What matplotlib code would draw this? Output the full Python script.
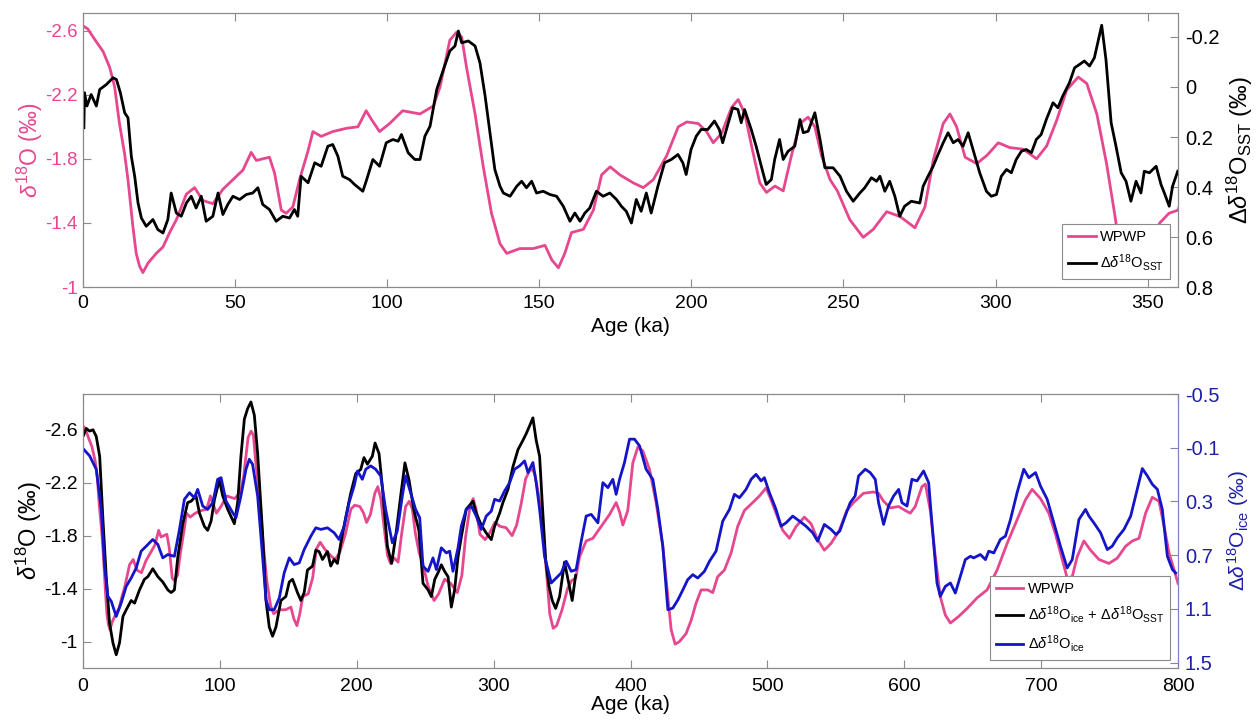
import matplotlib
matplotlib.use('Agg')
import matplotlib.pyplot as plt

plt.rcParams['font.family'] = ['Liberation Sans', 'DejaVu Sans']
plt.rcParams['mathtext.fontset'] = 'custom'
plt.rcParams['mathtext.rm'] = 'Liberation Sans'
plt.rcParams['mathtext.it'] = 'Liberation Sans:italic'
plt.rcParams['mathtext.bf'] = 'Liberation Sans:bold'

# WPWP d18O (permil), 0-800 ka
wpwp_age = [0, 1.6, 4.4, 6.6, 8.8, 10.4, 12, 13.7, 14.8, 16.4, 17.5, 18.6, 19.7, 21.4, 24.1, 26.3,
            28.5, 30.7, 34, 36.7, 39.4, 42.7, 46, 49.3, 52.6, 55.3, 57, 59.1, 61.3, 63, 65.2, 66.8,
            69, 71.2, 74, 75.6, 78.3, 82.1, 86.5, 90.4, 93.1, 94.7, 97.5, 100.8, 105.1, 110.8,
            115.2, 117.4, 120.6, 122.8, 124.5, 126.1, 128.9, 131.6, 134.3, 137.1, 139.3, 143.6,
            148, 151.9, 154.1, 156.3, 158.4, 160.6, 164.5, 167.8, 170.5, 173.3, 176.5, 180.9,
            184.2, 187.5, 191.9, 195.7, 198.5, 202.3, 205, 207.2, 210, 213.2, 215.4, 217.6,
            219.8, 222.5, 224.7, 227.5, 230.2, 232.9, 235.7, 238.4, 240.6, 242.8, 245.6, 248,
            252.1, 256.5, 259.8, 264.2, 268.6, 273.5, 276.8, 279.5, 282.8, 285, 287.2, 290,
            293.8, 297.1, 300.9, 304.7, 309.1, 313.5, 316.8, 320.1, 323.4, 327.2, 330, 333.3,
            336.5, 339.3, 341, 343.5, 346, 350, 354, 357, 360,
            362.8, 367.6, 372.5, 378.6, 384.7, 389.5, 392, 394.4, 398, 401.7, 405.4, 409, 413.9,
            418.7, 423.6, 427.3, 429.7, 432.6, 435.8, 440.6, 444.3, 447.9, 451.6, 456.4, 460.1,
            463.7, 468.6, 473.5, 478.3, 483.2, 489.3, 494.2, 499, 502.7, 506.3, 511.2, 516.1,
            521, 527, 531.9, 536.7, 541.6, 546.4, 552.6, 558, 562.9, 570.2, 577.6, 581.2, 584.9,
            589.8, 595.9, 600.7, 604.4, 608, 612.9, 615.4, 619, 622.7, 626.3, 630, 633.7, 639.8,
            645.9, 653.2, 660.5, 667.8, 675.1, 682.4, 688.5, 693.4, 699.5, 705.6, 710.5, 715.4,
            719, 722.7, 726.3, 731.2, 736.1, 742.2, 749.5, 755.6, 761.7, 766.6, 771.5, 776.3,
            781.2, 786.1, 789.8, 793.4, 797.1, 800]
wpwp_d18o = [-2.63, -2.61, -2.53, -2.47, -2.37, -2.25, -2.02, -1.83, -1.67, -1.38, -1.21, -1.13,
             -1.09, -1.15, -1.21, -1.25, -1.34, -1.42, -1.58, -1.62, -1.54, -1.52, -1.61, -1.67,
             -1.73, -1.84, -1.79, -1.80, -1.81, -1.71, -1.48, -1.46, -1.50, -1.67, -1.85, -1.97,
             -1.94, -1.97, -1.99, -2.00, -2.10, -2.05, -1.97, -2.02, -2.10, -2.08, -2.13, -2.25,
             -2.54, -2.59, -2.56, -2.37, -2.08, -1.75, -1.46, -1.27, -1.21, -1.24, -1.24, -1.26,
             -1.17, -1.12, -1.21, -1.34, -1.36, -1.48, -1.70, -1.75, -1.70, -1.65, -1.62, -1.67,
             -1.82, -2.00, -2.03, -2.02, -1.97, -1.90, -1.96, -2.12, -2.17, -2.08, -1.88, -1.65,
             -1.59, -1.63, -1.60, -1.82, -2.02, -2.06, -2.00, -1.82, -1.67, -1.60, -1.42, -1.31,
             -1.36, -1.47, -1.44, -1.37, -1.50, -1.79, -2.02, -2.08, -2.00, -1.81, -1.77, -1.82,
             -1.90, -1.87, -1.86, -1.80, -1.88, -2.04, -2.23, -2.31, -2.27, -2.08, -1.77, -1.44,
             -1.21, -1.10, -1.12, -1.24, -1.40, -1.46, -1.48,
             -1.64, -1.76, -1.78, -1.87, -1.96, -2.05, -1.98, -1.88, -1.99, -2.35, -2.47, -2.44,
             -2.30, -2.05, -1.72, -1.34, -1.09, -0.98, -1.00, -1.06, -1.16, -1.29, -1.39, -1.39,
             -1.37, -1.49, -1.54, -1.67, -1.87, -1.99, -2.05, -2.10, -2.16, -2.07, -1.97, -1.84,
             -1.78, -1.87, -1.94, -1.89, -1.77, -1.69, -1.74, -1.84, -1.99, -2.05, -2.12, -2.13,
             -2.12, -2.06, -2.01, -2.02, -1.99, -1.97, -2.02, -2.17, -2.19, -1.99, -1.64, -1.34,
             -1.20, -1.14, -1.19, -1.25, -1.33, -1.39, -1.54, -1.74, -1.92, -2.07, -2.15, -2.08,
             -1.97, -1.81, -1.62, -1.48, -1.49, -1.64, -1.76, -1.69, -1.62, -1.59, -1.63, -1.72,
             -1.76, -1.78, -1.97, -2.09, -2.06, -1.87, -1.67, -1.54, -1.44]

# delta d18O_SST (permil), 0-360 ka
sst_age = [0.3, 0.5, 1.3, 2.7, 4.4, 5.5, 7.7, 9.9, 11, 12.3, 13.7, 14.8, 15.9, 17, 18.1, 19.2,
           20.8, 23, 24.6, 26.3, 27.9, 29, 30.7, 32.3, 34, 35.6, 37.2, 38.9, 40.5, 42.7, 44.4, 46,
           47.6, 49.3, 51.5, 53.7, 55.8, 57.5, 59.1, 61.3, 63.5, 65.7, 67.9, 69.5, 70.6, 71.7, 74,
           76.2, 78.3, 80.5, 82.1, 83.8, 85.4, 87.6, 89.3, 92, 93.1, 95.3, 97.5, 99.7, 101.9,
           103.6, 104.7, 106.9, 109.1, 110.8, 112.4, 114.1, 116.3, 118.5, 120.6, 122.3, 123.4,
           124.5, 126.7, 128.9, 130.5, 132.2, 133.8, 135.4, 137.1, 138.2, 140.4, 142.6, 144.2,
           145.8, 147.5, 149.1, 151.3, 153.5, 155.7, 157.9, 160.1, 161.7, 163.4, 165, 166.6,
           168.8, 171, 173.2, 175.4, 177, 178.6, 180.3, 181.9, 183.5, 185.2, 186.8, 189, 191.2,
           193.4, 195.6, 197.2, 198.3, 199.9, 201.6, 203.2, 205.4, 207.6, 209.2, 210.3, 212,
           213.6, 215.3, 216.4, 217.5, 219.7, 221.3, 223, 224.6, 226.3, 227.4, 229, 230.2, 231.8,
           234, 235.7, 236.8, 238.4, 240.6, 242.3, 243.9, 246.6, 248.9, 251, 253.2, 255.4, 257,
           259.2, 260.9, 262, 263.6, 265.2, 266.9, 268.5, 270.1, 272.3, 275.1, 276.2, 277.8,
           279.5, 281.1, 282.8, 284.4, 286.1, 287.7, 289.3, 291, 292.6, 294.8, 297, 298.6, 300.3,
           301.9, 303.6, 305.2, 306.8, 308.5, 310.1, 311.8, 313.4, 315, 316.7, 318.9, 320.5,
           322.1, 324.3, 326, 327.6, 329.2, 330.9, 332.5, 333.6, 334.9, 336.3, 338, 339.6, 341.3,
           342.9, 344.5, 346.2, 347.8, 348.9, 350.6, 352.8, 354.4, 355.5, 357.1, 358.2, 359.9]
sst_d18o = [0.163, 0.023, 0.076, 0.03, 0.076, 0.01, -0.01, -0.037, -0.03, 0.023, 0.103, 0.123,
            0.277, 0.357, 0.464, 0.524, 0.557, 0.53, 0.57, 0.584, 0.53, 0.424, 0.504, 0.517,
            0.464, 0.437, 0.484, 0.437, 0.537, 0.517, 0.424, 0.51, 0.47, 0.437, 0.45, 0.43,
            0.424, 0.403, 0.47, 0.49, 0.537, 0.517, 0.524, 0.49, 0.517, 0.357, 0.383, 0.303,
            0.317, 0.237, 0.23, 0.277, 0.357, 0.37, 0.39, 0.417, 0.377, 0.29, 0.317, 0.223, 0.21,
            0.217, 0.19, 0.263, 0.29, 0.29, 0.197, 0.157, 0.01, -0.07, -0.144, -0.164, -0.224,
            -0.177, -0.184, -0.164, -0.097, 0.036, 0.183, 0.33, 0.397, 0.424, 0.437, 0.397, 0.377,
            0.403, 0.377, 0.424, 0.417, 0.43, 0.437, 0.477, 0.537, 0.504, 0.537, 0.504, 0.484,
            0.417, 0.437, 0.424, 0.45, 0.477, 0.497, 0.544, 0.45, 0.497, 0.424, 0.504, 0.397,
            0.303, 0.29, 0.27, 0.303, 0.35, 0.25, 0.197, 0.17, 0.17, 0.136, 0.17, 0.223, 0.15,
            0.083, 0.09, 0.143, 0.09, 0.17, 0.237, 0.317, 0.39, 0.37, 0.29, 0.21, 0.29, 0.257,
            0.237, 0.13, 0.183, 0.177, 0.103, 0.21, 0.323, 0.323, 0.357, 0.417, 0.457, 0.424,
            0.403, 0.363, 0.377, 0.357, 0.417, 0.377, 0.437, 0.517, 0.477, 0.457, 0.464, 0.397,
            0.357, 0.317, 0.27, 0.223, 0.183, 0.223, 0.21, 0.237, 0.183, 0.25, 0.343, 0.417,
            0.437, 0.43, 0.357, 0.33, 0.343, 0.29, 0.257, 0.25, 0.263, 0.21, 0.19, 0.13, 0.063,
            0.083, 0.036, -0.017, -0.077, -0.09, -0.104, -0.084, -0.117, -0.177, -0.247, -0.11,
            0.143, 0.237, 0.343, 0.377, 0.457, 0.377, 0.424, 0.337, 0.343, 0.317, 0.39, 0.424,
            0.477, 0.397, 0.337]

# delta d18O_ice (permil), 0-800 ka
ice_age = [0.5, 4.9, 9.7, 13.4, 15.8, 18.2, 20.7, 24.3, 27.9, 31.6, 35.2, 38.9, 42.5, 46.2, 51,
           54.7, 58.3, 62, 66.8, 70.5, 74.1, 77.8, 81.4, 83.8, 87.5, 91.1, 94.8, 98.4, 100.9,
           104.5, 109.4, 111.8, 115.4, 119.1, 121.5, 123.9, 127.6, 131.2, 133.7, 136.1, 139.7,
           143.4, 147, 150.7, 154.3, 158, 161.6, 166.5, 170.1, 173.8, 178.6, 183.5, 187.1, 190.8,
           194.4, 198.1, 200.5, 204.1, 206.6, 210.2, 213.8, 217.5, 221.1, 226, 229.6, 233.3,
           235.7, 239.4, 243, 246, 248.4, 252.1, 255.7, 258.2, 261.8, 265.5, 267.9, 270.3, 274,
           276.4, 280, 283.7, 287.3, 291, 294.6, 298.3, 300.7, 304.4, 308, 311.7, 315.3, 319,
           322.6, 325.1, 328.7, 331.1, 333.6, 337.2, 339.7, 342.1, 345.7, 349.4, 353, 356.7,
           360.3, 364, 367.6, 371.3, 376.2, 379.8, 383.5, 387.1, 389.5, 392, 395.6, 399.3, 402.9,
           406.6, 411.4, 416.3, 420, 423.6, 427.3, 430.9, 434.7, 438.3, 441.8, 445.5, 449.1, 454,
           457.7, 462.5, 467.4, 472.3, 475.9, 479.6, 484.4, 488.1, 491.7, 495.4, 497.8, 501.5,
           506.3, 510, 513.6, 518.5, 523.4, 528.2, 533.1, 536.7, 541.6, 546.5, 550.1, 552.9,
           556.8, 560.5, 564.1, 566.6, 571.5, 575.1, 578.8, 581.2, 584.9, 588.5, 592.2, 595.9,
           598.3, 602, 605.6, 609.3, 614.1, 617.8, 620.2, 623.9, 626.3, 630, 633.7, 637.3, 641,
           644.6, 648.3, 650.7, 655.6, 659.3, 661.7, 665.4, 670.2, 673.9, 677.6, 682.4, 687.3,
           691, 695.9, 699.5, 704.4, 709.3, 714.1, 719, 722.7, 727.6, 732.4, 734.9, 738.5, 743.4,
           748.3, 751.9, 755.6, 760.5, 765.4, 770.2, 773.9, 777.6, 781.2, 784.9, 788.5, 792.2,
           795.9, 798.3]
ice_d18o = [-0.089, -0.039, 0.06, 0.359, 0.782, 1.006, 1.044, 1.156, 1.056, 0.932, 0.87, 0.795,
            0.67, 0.633, 0.583, 0.62, 0.72, 0.695, 0.708, 0.508, 0.284, 0.235, 0.272, 0.21,
            0.334, 0.359, 0.309, 0.135, 0.123, 0.297, 0.384, 0.421, 0.259, 0.06, -0.014, 0.023,
            0.259, 0.708, 1.031, 1.106, 1.106, 1.019, 0.832, 0.72, 0.77, 0.757, 0.658, 0.558,
            0.496, 0.508, 0.496, 0.533, 0.583, 0.484, 0.309, 0.185, 0.073, 0.135, 0.06, 0.035,
            0.06, 0.11, 0.359, 0.608, 0.521, 0.259, 0.11, 0.235, 0.359, 0.421, 0.782, 0.82, 0.72,
            0.807, 0.645, 0.683, 0.67, 0.82, 0.645, 0.484, 0.359, 0.334, 0.409, 0.508, 0.409,
            0.372, 0.284, 0.297, 0.222, 0.16, 0.06, 0.035, -0.002, 0.085, 0.01, 0.16, 0.359,
            0.708, 0.807, 0.907, 0.87, 0.832, 0.745, 0.82, 0.807, 0.596, 0.409, 0.396, 0.459,
            0.16, 0.197, 0.135, 0.247, 0.135, 0.01, -0.164, -0.164, -0.114, 0.06, 0.135, 0.359,
            0.633, 1.106, 1.094, 1.031, 0.957, 0.882, 0.845, 0.87, 0.82, 0.745, 0.67, 0.446,
            0.359, 0.247, 0.272, 0.21, 0.135, 0.098, 0.147, 0.123, 0.235, 0.359, 0.484, 0.459,
            0.409, 0.446, 0.484, 0.533, 0.596, 0.471, 0.508, 0.546, 0.52, 0.409, 0.309, 0.259,
            0.11, 0.06, 0.085, 0.135, 0.309, 0.471, 0.334, 0.259, 0.21, 0.309, 0.334, 0.135,
            0.147, 0.073, 0.16, 0.459, 0.907, 1.006, 0.932, 0.907, 0.982, 0.857, 0.733, 0.708,
            0.72, 0.695, 0.733, 0.67, 0.683, 0.583, 0.558, 0.434, 0.235, 0.06, 0.123, 0.085,
            0.185, 0.284, 0.459, 0.633, 0.795, 0.733, 0.434, 0.359, 0.409, 0.459, 0.533, 0.658,
            0.633, 0.571, 0.508, 0.409, 0.21, 0.055, 0.11, 0.172, 0.21, 0.359, 0.708, 0.807, 0.832]

# delta d18O_ice + delta d18O_SST (permil), 0-360 ka
sum_age = [0.5, 2.4, 4.9, 7.3, 9.7, 12.2, 14.6, 17, 19.4, 21.9, 24.3, 26.7, 29.2, 31.6, 35.2,
           37.7, 41.3, 44.9, 47.4, 51, 54.7, 58.3, 62, 64.4, 66.8, 69.3, 72.9, 76.5, 79, 82.6,
           85.1, 88.7, 91.1, 93.6, 96, 99.6, 102.1, 105.7, 110.6, 113, 115.4, 117.9, 120.3, 122.7,
           125.2, 127.6, 131.2, 133.7, 136.1, 138.5, 141, 144.6, 148.2, 150.7, 153.1, 156.7,
           159.2, 161.6, 164, 167.7, 170.1, 172.5, 175, 178.6, 181, 183.5, 185.9, 188.3, 192,
           195.6, 199.3, 202.9, 205.3, 207.8, 211.4, 213.4, 216.3, 218.7, 222.4, 225.5, 228.4,
           232.1, 235.2, 238.2, 241.8, 245.4, 248.4, 252.1, 254.5, 257, 259.4, 261.8, 264.2,
           266.7, 269.1, 271.5, 274, 276.4, 280, 282.5, 284.9, 287.3, 291, 294.6, 298.3, 300.7,
           304.4, 306.8, 310.5, 314.1, 317.8, 321.4, 323.8, 326.3, 328.7, 331.1, 333.6, 335.5,
           338, 340.4, 342.8, 345.3, 348.2, 351.8, 354.3, 357.4, 359.9]
sum_d18o = [-2.56, -2.61, -2.59, -2.60, -2.55, -2.40, -1.92, -1.49, -1.14, -0.99, -0.90, -0.99,
            -1.19, -1.24, -1.31, -1.29, -1.39, -1.47, -1.49, -1.55, -1.49, -1.45, -1.39, -1.37,
            -1.39, -1.64, -1.89, -2.05, -2.06, -2.10, -1.97, -1.87, -1.84, -1.91, -2.07, -2.22,
            -2.10, -2.00, -1.89, -2.05, -2.40, -2.68, -2.76, -2.81, -2.71, -2.42, -1.82, -1.31,
            -1.11, -1.04, -1.11, -1.31, -1.34, -1.45, -1.47, -1.37, -1.31, -1.37, -1.54, -1.57,
            -1.69, -1.68, -1.62, -1.68, -1.57, -1.62, -1.59, -1.74, -1.94, -2.12, -2.27, -2.30,
            -2.39, -2.34, -2.40, -2.50, -2.42, -2.17, -1.72, -1.59, -1.79, -2.10, -2.35, -2.22,
            -1.99, -1.84, -1.44, -1.39, -1.34, -1.47, -1.52, -1.58, -1.53, -1.49, -1.26, -1.39,
            -1.64, -1.79, -2.00, -2.03, -2.06, -1.97, -1.88, -1.82, -1.77, -1.87, -1.97, -2.05,
            -2.15, -2.32, -2.45, -2.52, -2.57, -2.63, -2.69, -2.52, -2.40, -2.05, -1.62, -1.42,
            -1.31, -1.25, -1.34, -1.60, -1.47, -1.31, -1.50]

pink = '#E6478F'
blue = '#1414C8'
dkblue = '#1E1EAA'
grey = '#8A8A8A'

fig = plt.figure(figsize=(12.59, 7.21), dpi=100)

# ---------------- top panel ----------------
ax1 = fig.add_axes([0.0659, 0.6019, 0.8698, 0.3801])
ax1.plot(wpwp_age, wpwp_d18o, color=pink, lw=2.0, label='WPWP')
ax1.set_xlim(0, 360)
ax1.set_ylim(-1, -2.71)
ax1.set_xticks([0, 50, 100, 150, 200, 250, 300, 350])
ax1.set_xticklabels(['0', '50', '100', '150', '200', '250', '300', '350'])
ax1.set_yticks([-2.6, -2.2, -1.8, -1.4, -1])
ax1.set_yticklabels(['-2.6', '-2.2', '-1.8', '-1.4', '-1'])
ax1.tick_params(axis='x', direction='in', top=True, length=6, labelsize=14, color=grey, pad=6)
ax1.tick_params(axis='y', direction='in', length=6, labelsize=13.5, colors=pink, pad=4)
ax1.tick_params(axis='y', color=grey)
ax1.set_ylabel(r'$\delta^{18}$O (‰)', color=pink, fontsize=16.5, labelpad=0)
ax1.set_xlabel('Age (ka)', fontsize=15, labelpad=3)
for s in ax1.spines.values():
    s.set_color(grey)

ax1r = ax1.twinx()
ax1r.plot(sst_age, sst_d18o, color='black', lw=2.0, label=r'$\Delta\delta^{18}$O$_{\rm SST}$')
ax1r.set_ylim(0.8, -0.296)
ax1r.set_yticks([-0.2, 0, 0.2, 0.4, 0.6, 0.8])
ax1r.set_yticklabels(['-0.2', '0', '0.2', '0.4', '0.6', '0.8'])
ax1r.tick_params(axis='y', direction='in', length=6, labelsize=14.5, color=grey, pad=5)
ax1r.set_ylabel(r'$\Delta\delta^{18}$O$_{\rm SST}$ (‰)', fontsize=17, labelpad=4)
for s in ax1r.spines.values():
    s.set_color(grey)
h1, l1 = ax1.get_legend_handles_labels()
h2, l2 = ax1r.get_legend_handles_labels()
leg = ax1r.legend(h1 + h2, l1 + l2, loc='lower right', fontsize=10.5, fancybox=False,
                  framealpha=1, edgecolor=grey, borderaxespad=0.55, handlelength=1.9,
                  borderpad=0.4, labelspacing=0.55, handletextpad=0.3)
leg.get_frame().set_linewidth(0.8)

# ---------------- bottom panel ----------------
ax2 = fig.add_axes([0.0659, 0.0735, 0.8698, 0.3800])
ax2.plot(wpwp_age, wpwp_d18o, color=pink, lw=2.0, label='WPWP')
ax2.plot(sum_age, sum_d18o, color='black', lw=2.0,
         label=r'$\Delta\delta^{18}$O$_{\rm ice}$ + $\Delta\delta^{18}$O$_{\rm SST}$')
ax2.set_xlim(0, 800)
ax2.set_ylim(-0.80, -2.87)
ax2.set_xticks([0, 100, 200, 300, 400, 500, 600, 700, 800])
ax2.set_xticklabels(['0', '100', '200', '300', '400', '500', '600', '700', '800'])
ax2.set_yticks([-2.6, -2.2, -1.8, -1.4, -1])
ax2.set_yticklabels(['-2.6', '-2.2', '-1.8', '-1.4', '-1'])
ax2.tick_params(axis='x', direction='in', top=True, length=6, labelsize=14, color=grey, pad=7)
ax2.tick_params(axis='y', direction='in', length=6, labelsize=14, color=grey, pad=4)
ax2.set_ylabel(r'$\delta^{18}$O (‰)', fontsize=17, labelpad=0)
ax2.set_xlabel('Age (ka)', fontsize=15, labelpad=0)
for s in ax2.spines.values():
    s.set_color(grey)

ax2r = ax2.twinx()
ax2r.plot(ice_age, ice_d18o, color=blue, lw=2.0, label=r'$\Delta\delta^{18}$O$_{\rm ice}$')
ax2r.set_ylim(1.54, -0.5)
ax2r.set_yticks([-0.5, -0.1, 0.3, 0.7, 1.1, 1.5])
ax2r.set_yticklabels(['-0.5', '-0.1', '0.3', '0.7', '1.1', '1.5'])
ax2r.tick_params(axis='y', direction='in', length=6, labelsize=14.5, colors=dkblue, pad=5)
ax2r.tick_params(axis='y', color='#8080C0')
ax2r.set_ylabel(r'$\Delta\delta^{18}$O$_{\rm ice}$ (‰)', color=dkblue, fontsize=15, labelpad=4)
for s in ax2r.spines.values():
    s.set_color(grey)
ax2r.spines['right'].set_color('#8080C0')
h1, l1 = ax2.get_legend_handles_labels()
h2, l2 = ax2r.get_legend_handles_labels()
leg = ax2r.legend(h1 + h2, l1 + l2, loc='lower right', fontsize=10.5, fancybox=False,
                  framealpha=1, edgecolor=grey, borderaxespad=0.55, handlelength=1.9,
                  borderpad=0.4, labelspacing=0.55, handletextpad=0.3)
leg.get_frame().set_linewidth(0.8)

fig.savefig('out.png', dpi=100)
